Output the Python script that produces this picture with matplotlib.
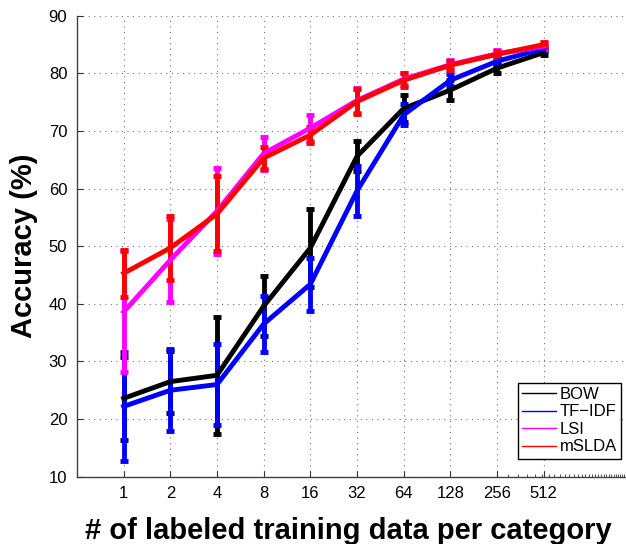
import numpy as np
import matplotlib
matplotlib.use('Agg')
import matplotlib.pyplot as plt
from matplotlib.ticker import FixedLocator, NullFormatter

plt.rcParams['font.family'] = ['Liberation Sans', 'DejaVu Sans']

# DATA
n_labeled = [1, 2, 4, 8, 16, 32, 64, 128, 256, 512]
tick_labels = ['1', '2', '4', '8', '16', '32', '64', '128', '256', '512']

bow_mean = [23.6, 26.5, 27.6, 39.6, 49.7, 65.6, 73.9, 77.1, 80.9, 83.6]
bow_err = [7.2, 5.4, 10.2, 5.2, 6.8, 2.6, 2.3, 1.7, 0.8, 0.5]

tfidf_mean = [22.2, 25.0, 26.0, 36.5, 43.4, 59.6, 72.8, 78.8, 82.1, 84.3]
tfidf_err = [9.5, 7.1, 7.1, 4.9, 4.6, 4.4, 1.8, 1.0, 0.7, 0.4]

lsi_mean = [38.6, 47.6, 56.1, 66.1, 70.5, 75.3, 79.0, 81.5, 83.4, 84.7]
lsi_err = [10.5, 7.2, 7.5, 2.9, 2.3, 2.2, 1.0, 0.8, 0.6, 0.5]

mslda_mean = [45.3, 49.7, 55.6, 65.3, 69.3, 75.1, 78.8, 81.4, 83.3, 85.0]
mslda_err = [4.1, 5.5, 6.5, 1.9, 1.4, 2.1, 1.2, 0.8, 0.6, 0.5]

series = [
    ('BOW', bow_mean, bow_err, 'k'),
    ('TF\u2212IDF', tfidf_mean, tfidf_err, (0, 0, 1)),
    ('LSI', lsi_mean, lsi_err, (1, 0, 1)),
    ('mSLDA', mslda_mean, mslda_err, (1, 0, 0)),
]

fig = plt.figure(figsize=(6.26, 5.44), dpi=100)
ax = fig.add_axes([0.123, 0.1237, 0.8946, 0.8474])

handles = []
for name, m, e, c in series:
    ax.errorbar(n_labeled, m, yerr=e, color=c, lw=3.5, elinewidth=3.5,
                capsize=3, capthick=3.5)
    h, = ax.plot([], [], color=c, lw=1, label=name)
    handles.append(h)

ax.set_xscale('log', base=2)
ax.set_xlim(0.5, 2048)
ax.set_ylim(10, 90)
ax.set_xticks(n_labeled)
ax.set_xticklabels(tick_labels)
ax.xaxis.set_minor_locator(FixedLocator(list(range(300, 2001, 50))))
ax.xaxis.set_minor_formatter(NullFormatter())
ax.set_yticks(range(10, 91, 10))

ax.grid(True, which='major', linestyle=(0, (1, 4)), color='0.45', lw=0.8)
ax.spines['top'].set_visible(False)
ax.spines['right'].set_visible(False)
for s in ['left', 'bottom']:
    ax.spines[s].set_color('0.25')
    ax.spines[s].set_linewidth(1.0)
ax.tick_params(which='major', direction='in', length=4, width=0.8,
               labelsize=12, color='0.2', pad=7)
ax.tick_params(which='minor', direction='in', length=2, width=0.6, color='0.2')

ax.set_ylabel('Accuracy (%)', fontsize=21, fontweight='bold', labelpad=8)
ax.set_xlabel('# of labeled training data per category', fontsize=21,
              fontweight='bold', labelpad=11)
ax.xaxis.set_label_coords(0.485, -0.087)
ax.xaxis.label.set_verticalalignment('top')

leg = ax.legend(handles=handles, loc='upper left',
                bbox_to_anchor=(518 / 626, (544 - 382.7) / 544),
                bbox_transform=fig.transFigure, fontsize=12, frameon=True,
                fancybox=False, framealpha=1, edgecolor='k',
                handlelength=2.0, handletextpad=0.25, labelspacing=0.15,
                borderpad=0.25, borderaxespad=0)
leg.get_frame().set_linewidth(1.0)

plt.savefig('out.png', dpi=100)
